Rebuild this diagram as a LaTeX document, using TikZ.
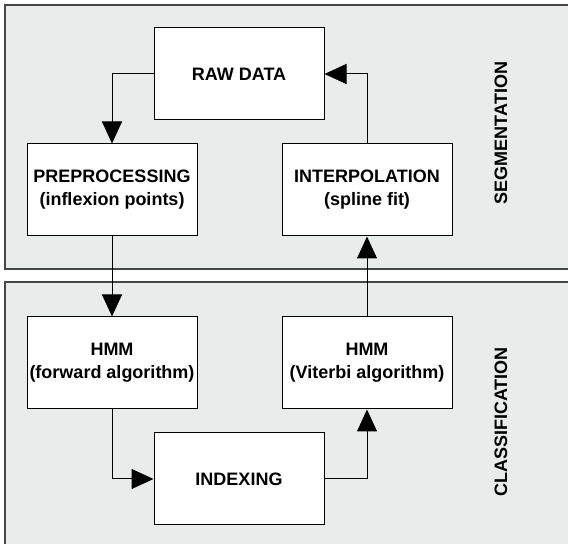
\documentclass[tikz,border=0pt]{standalone}
\usepackage{fontspec}
\setmainfont{Liberation Sans}
\usetikzlibrary{arrows.meta}
\definecolor{panelgray}{RGB}{234,235,235}
\definecolor{paneledge}{RGB}{70,70,70}
\begin{document}
\begin{tikzpicture}[x=0.5pt,y=-0.5pt,
    stage/.style={draw, fill=white, line width=0.5pt, minimum width=85pt, minimum height=46pt,
      align=center, inner sep=0pt, font=\fontsize{9}{11.5}\selectfont\bfseries},
    panel/.style={draw=paneledge, fill=panelgray, line width=0.6pt},
    phase/.style={rotate=90, font=\fontsize{9}{11}\selectfont\bfseries},
    flow/.style={line width=0.5pt, -{Triangle[length=11pt,width=10pt]}}]
          \clip (0,0) rectangle (568,544);
          \draw[panel] (5,5) rectangle (580,269);
          \draw[panel] (5,282) rectangle (580,560);
          \node[stage] (raw) at (239,74) {RAW DATA};
          \node[stage] (prep) at (112,190) {PREPROCESSING\\(inflexion points)};
          \node[stage] (interp) at (367,190) {INTERPOLATION\\(spline fit)};
          \node[stage] (hmmfwd) at (112,363) {HMM\\(forward algorithm)};
          \node[stage] (hmmvit) at (367,363) {HMM\\(Viterbi algorithm)};
          \node[stage] (index) at (239,479) {INDEXING};
          \node[phase] (seg) at (501,133) {SEGMENTATION};
          \node[phase] (cls) at (501,422) {CLASSIFICATION};
          \draw[flow] (raw.west) -| (prep.north);
          \draw[flow] (prep.south) -- (hmmfwd.north);
          \draw[flow] (hmmfwd.south) |- (index.west);
          \draw[flow] (index.east) -| (hmmvit.south);
          \draw[flow] (hmmvit.north) -- (interp.south);
          \draw[flow] (interp.north) |- (raw.east);
        \end{tikzpicture}
\end{document}
